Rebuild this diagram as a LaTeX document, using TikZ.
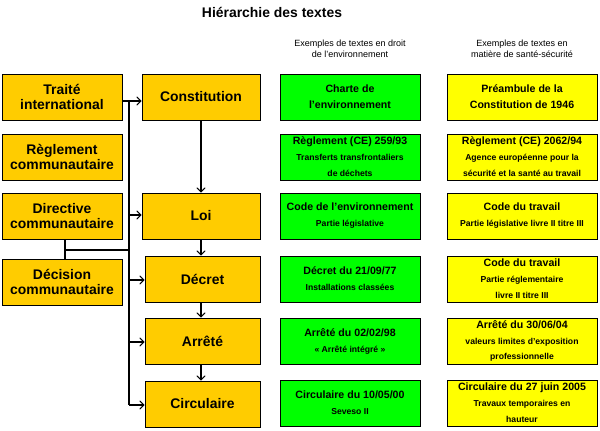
\documentclass[tikz,border=0pt]{standalone}
\usepackage{fontspec}
\setmainfont{Liberation Sans}
\usepackage{tikz}
\usetikzlibrary{arrows, positioning, calc}
\definecolor{gold}{HTML}{FFCC00}
\definecolor{vert}{HTML}{00FF00}
\definecolor{jaune}{HTML}{FFFF00}
\tikzset{
  hbox/.style={draw, rectangle, fill=gold, font=\fontsize{10.5}{11.5}\selectfont\bfseries, align=center, inner sep=0pt},
  gbox/.style={draw, rectangle, fill=vert, align=center, inner sep=0pt, font=\bfseries, minimum width=140*0.0265cm, minimum height=46*0.0265cm},
  ybox/.style={draw, rectangle, fill=jaune, align=center, inner sep=0pt, font=\bfseries, minimum width=150*0.0265cm, minimum height=46*0.0265cm},
}
\newcommand{\exttl}{\fontsize{8}{9}\selectfont}
\newcommand{\exsub}{\fontsize{6.5}{7.3}\selectfont}
\begin{document}
\begin{tikzpicture}[x=0.0265cm, y=-0.0265cm, >=angle 90]
    \useasboundingbox (0,0) rectangle (600,430);
    % Title and headers
    \node[font=\fontsize{10.5}{12}\selectfont\bfseries] (title) at (272,12) {Hiérarchie des textes};
    \node[align=center, font=\fontsize{6.8}{8.5}\selectfont] (hdenv) at (350,49) {Exemples de textes en droit\\de l'environnement};
    \node[align=center, font=\fontsize{6.8}{8.5}\selectfont] (hdsante) at (522,49) {Exemples de textes en\\matière de santé-sécurité};

    % Sources (left column)
    \node[hbox, minimum width=120*0.0265cm, minimum height=46*0.0265cm] (traite) at (62,97) {Traité\\international};
    \node[hbox, minimum width=120*0.0265cm, minimum height=46*0.0265cm] (reglement) at (62,157) {Règlement\\communautaire};
    \node[hbox, minimum width=120*0.0265cm, minimum height=46*0.0265cm] (directive) at (62,216) {Directive\\communautaire};
    \node[hbox, minimum width=120*0.0265cm, minimum height=46*0.0265cm] (decision) at (62,282) {Décision\\communautaire};

    % Hierarchy (middle column)
    \node[hbox, minimum width=118*0.0265cm, minimum height=46*0.0265cm] (constitution) at (201,97) {Constitution};
    \node[hbox, minimum width=118*0.0265cm, minimum height=46*0.0265cm] (loi) at (201,216) {Loi};
    \node[hbox, minimum width=115*0.0265cm, minimum height=46*0.0265cm] (decret) at (202.5,279) {Décret};
    \node[hbox, minimum width=115*0.0265cm, minimum height=46*0.0265cm] (arrete) at (202.5,341) {Arrêté};
    \node[hbox, minimum width=115*0.0265cm, minimum height=46*0.0265cm] (circulaire) at (202.5,404) {Circulaire};

    % Bus
    \coordinate (bustop) at (129,101);
    \coordinate (busbot) at (129,405);
    \coordinate (dd) at (65,250);
    \coordinate (ddbus) at (129,250);
    \draw[thick] (traite.east |- bustop) -- (bustop) -- (busbot);
    \draw[thick, ->] (bustop) -- (constitution.west |- bustop);
    \draw[thick, ->] (129,215) -- (loi.west |- 0,215);
    \draw[thick, ->] (129,280) -- (decret.west |- 0,280);
    \draw[thick, ->] (129,342) -- (arrete.west |- 0,342);
    \draw[thick, ->] (busbot) -- (circulaire.west |- busbot);
    \draw[thick] (directive.south -| dd) -- (decision.north -| dd);
    \draw[thick] (dd) -- (ddbus);

    % Vertical chain
    \draw[thick, ->] (constitution.south) -- (constitution.south |- loi.north);
    \draw[thick, ->] (loi.south) -- (loi.south |- decret.north);
    \draw[thick, ->] (loi.south |- decret.south) -- (loi.south |- arrete.north);
    \draw[thick, ->] (loi.south |- arrete.south) -- (loi.south |- circulaire.north);

    % Environment examples
    \node[gbox] (charte) at (350,97) {\exttl Charte de\\\exttl l'environnement};
    \node[gbox] (ce259) at (350,157) {\exttl Règlement (CE) 259/93\\\exsub Transferts transfrontaliers\\\exsub de déchets};
    \node[gbox] (codeenv) at (350,216) {\exttl Code de l'environnement\\\exsub Partie législative};
    \node[gbox] (decret77) at (350,279) {\exttl Décret du 21/09/77\\\exsub Installations classées};
    \node[gbox] (arrete98) at (350,341) {\exttl Arrêté du 02/02/98\\\exsub « Arrêté intégré »};
    \node[gbox] (circ00) at (350,403) {\exttl Circulaire du 10/05/00\\\exsub Seveso II};

    % Health and safety examples
    \node[ybox] (preambule) at (522,97) {\exttl Préambule de la\\\exttl Constitution de 1946};
    \node[ybox] (ce2062) at (522,157) {\exttl Règlement (CE) 2062/94\\\exsub Agence européenne pour la\\\exsub sécurité et la santé au travail};
    \node[ybox] (codetrav) at (522,216) {\exttl Code du travail\\\exsub Partie législative livre II titre III};
    \node[ybox] (codetrav2) at (522,279) {\exttl Code du travail\\\exsub Partie réglementaire\\\exsub livre II titre III};
    \node[ybox] (arrete04) at (522,341) {\exttl Arrêté du 30/06/04\\\exsub valeurs limites d'exposition\\\exsub professionnelle};
    \node[ybox] (circ05) at (522,403) {\exttl Circulaire du 27 juin 2005\\\exsub Travaux temporaires en\\\exsub hauteur};
\end{tikzpicture}
\end{document}
